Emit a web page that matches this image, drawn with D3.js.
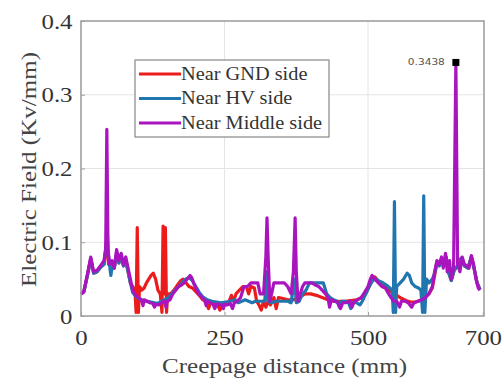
<!DOCTYPE html>
<html>
<head>
<meta charset="utf-8">
<script src="https://cdn.jsdelivr.net/npm/d3@7"></script>
<style>
  html, body { margin: 0; padding: 0; background: #fff; }
  svg { display: block; }
</style>
</head>
<body>
<svg id="chart" width="502" height="383"></svg>
<script>
// Creepage distance (mm) for each series
const gndDist = [0,5,12,17,22,28,34,40,45,48,54,58,62,66,70,74,78,82,86,90,94,96,98,100,102,106,110,114,118,122,126,130,134,138,141,143,145,147,149,151,156,162,168,174,178,182,188,194,200,206,212,218,222,226,232,238,242,246,252,258,262,266,270,276,282,288,292,296,302,306,310,314,318,322,326,330,336,340,344,350,360,370,380,390,400,410,420,430,440,450,460,470,480,490,496,502,508,512,518,526,534,542,550,558,566,574,582,590,598,606,612,616,620,624,628,632,636,640,645,650,656,662,668,674,680,686,690,695];
const gndField = [0.030,0.033,0.058,0.078,0.058,0.060,0.066,0.070,0.100,0.070,0.072,0.065,0.085,0.072,0.080,0.068,0.075,0.060,0.045,0.040,0.035,0.005,0.120,0.005,0.040,0.035,0.038,0.045,0.050,0.055,0.058,0.050,0.035,0.030,0.005,0.122,0.030,0.120,0.005,0.030,0.030,0.035,0.042,0.048,0.050,0.046,0.040,0.038,0.033,0.028,0.022,0.020,0.010,0.018,0.016,0.015,0.008,0.015,0.015,0.020,0.028,0.020,0.030,0.035,0.040,0.040,0.030,0.040,0.038,0.020,0.015,0.008,0.020,0.012,0.020,0.015,0.025,0.010,0.025,0.024,0.022,0.022,0.025,0.030,0.030,0.028,0.025,0.022,0.020,0.020,0.020,0.021,0.022,0.025,0.030,0.040,0.050,0.053,0.047,0.042,0.036,0.032,0.028,0.024,0.021,0.019,0.019,0.021,0.025,0.030,0.038,0.055,0.072,0.068,0.076,0.072,0.080,0.060,0.048,0.062,0.068,0.078,0.068,0.065,0.080,0.060,0.045,0.036];

const hvDist = [0,5,12,17,22,28,34,40,44,46,48,52,55,58,62,66,70,74,78,82,86,90,95,100,105,110,116,122,128,134,140,146,152,158,164,170,176,182,188,194,200,206,212,220,228,236,244,252,260,268,274,280,286,292,298,304,312,320,324,326,332,340,350,360,366,372,375,380,386,392,398,404,410,416,422,428,434,440,446,450,454,460,466,470,474,480,486,490,496,502,508,514,520,526,532,538,542,544,546,548,550,556,562,568,572,576,582,588,592,595,597,599,602,606,612,616,620,624,628,632,636,640,645,650,656,662,668,674,680,686,690,695];
const hvField = [0.030,0.033,0.058,0.078,0.058,0.060,0.066,0.070,0.100,0.110,0.080,0.055,0.070,0.065,0.085,0.072,0.080,0.068,0.075,0.060,0.045,0.032,0.027,0.024,0.022,0.020,0.020,0.019,0.018,0.017,0.020,0.022,0.025,0.030,0.035,0.040,0.045,0.050,0.052,0.048,0.040,0.032,0.026,0.022,0.020,0.019,0.018,0.019,0.020,0.022,0.018,0.020,0.022,0.020,0.018,0.020,0.020,0.020,0.060,0.020,0.018,0.020,0.020,0.020,0.018,0.050,0.018,0.020,0.030,0.035,0.045,0.045,0.045,0.045,0.045,0.030,0.025,0.022,0.020,0.012,0.020,0.020,0.018,0.010,0.018,0.018,0.015,0.020,0.030,0.040,0.048,0.050,0.047,0.045,0.042,0.038,0.035,0.005,0.155,0.005,0.040,0.045,0.050,0.058,0.055,0.045,0.040,0.038,0.035,0.005,0.163,0.005,0.050,0.045,0.050,0.058,0.072,0.068,0.076,0.072,0.080,0.060,0.048,0.062,0.068,0.078,0.068,0.065,0.080,0.060,0.045,0.036];

const midDist = [0,5,12,17,22,28,34,40,43,45,47,50,54,58,62,66,70,74,78,82,86,90,95,100,105,108,110,115,120,125,128,130,135,140,145,148,150,155,160,165,170,175,180,185,190,193,196,200,205,210,215,218,220,225,230,233,236,240,245,248,250,255,260,264,267,272,278,284,290,296,302,308,312,318,322,324,326,329,332,336,342,348,354,360,366,370,373,375,378,382,386,390,396,402,408,414,420,426,430,433,436,442,448,452,456,462,468,472,476,482,488,494,500,504,507,512,518,524,530,536,540,545,550,555,558,565,570,576,580,588,594,600,606,612,616,620,624,628,631,635,638,642,645,649,653,656,660,664,668,672,676,680,684,688,692,695];
const midField = [0.030,0.033,0.060,0.080,0.060,0.062,0.068,0.075,0.090,0.253,0.090,0.070,0.075,0.065,0.090,0.075,0.085,0.070,0.080,0.065,0.050,0.035,0.028,0.025,0.022,0.014,0.022,0.020,0.018,0.017,0.012,0.016,0.015,0.018,0.020,0.012,0.020,0.022,0.030,0.035,0.040,0.042,0.045,0.050,0.055,0.052,0.045,0.038,0.030,0.026,0.022,0.014,0.020,0.018,0.016,0.010,0.016,0.016,0.015,0.010,0.016,0.015,0.017,0.010,0.018,0.020,0.025,0.040,0.040,0.045,0.045,0.045,0.030,0.030,0.080,0.133,0.080,0.020,0.030,0.045,0.045,0.045,0.045,0.040,0.030,0.060,0.133,0.060,0.020,0.030,0.040,0.045,0.045,0.045,0.042,0.040,0.035,0.030,0.025,0.012,0.022,0.020,0.018,0.010,0.018,0.018,0.020,0.012,0.020,0.022,0.025,0.032,0.040,0.050,0.055,0.050,0.045,0.040,0.038,0.030,0.025,0.020,0.020,0.012,0.020,0.020,0.018,0.012,0.018,0.020,0.022,0.025,0.030,0.040,0.060,0.075,0.070,0.080,0.065,0.085,0.060,0.075,0.050,0.065,0.3438,0.070,0.060,0.080,0.070,0.068,0.065,0.082,0.070,0.050,0.038,0.035];

const xTicks = [0, 250, 500, 700];
const yTicks = [0, 0.1, 0.2, 0.3, 0.4];
const peakDist = 653;
const peakValue = 0.3438;

const seriesNames = ["Near GND side", "Near HV side", "Near Middle side"];
const seriesColors = ["#ec1c1c", "#2176b0", "#a914be"];

[[gndDist, gndField], [hvDist, hvField], [midDist, midField]].forEach(([a, b], i) => {
  if (a.length !== b.length) throw new Error(`series ${i}: ${a.length} vs ${b.length}`);
});

const series = [
  { name: seriesNames[0], color: seriesColors[0], pts: d3.zip(gndDist, gndField) },
  { name: seriesNames[1], color: seriesColors[1], pts: d3.zip(hvDist, hvField) },
  { name: seriesNames[2], color: seriesColors[2], pts: d3.zip(midDist, midField) }
];

const svg = d3.select("#chart");
const plotL = 81, plotR = 484, plotT = 21, plotB = 316;

const x = d3.scaleLinear().domain([0, 702]).range([plotL, plotR]);
const y = d3.scaleLinear().domain([0, 0.4]).range([plotB, plotT]);

const serif = "Liberation Serif";
const wide = "scale(1.13,1)";   // slightly widened lettering

svg.append("rect").attr("width", 502).attr("height", 383).attr("fill", "#fff");

// grid
const grid = svg.append("g").attr("stroke", "#e4e4e4").attr("stroke-width", 1);
grid.selectAll("line.gx").data(xTicks.filter(t => t > 0 && t < 700)).join("line")
  .attr("class", "gx")
  .attr("x1", d => x(d)).attr("x2", d => x(d)).attr("y1", plotT).attr("y2", plotB);
grid.selectAll("line.gy").data(yTicks.filter(t => t > 0 && t < 0.4)).join("line")
  .attr("class", "gy")
  .attr("y1", d => y(d)).attr("y2", d => y(d)).attr("x1", plotL).attr("x2", plotR);

// data lines
const plot = svg.append("g");
const line = d3.line().x(d => x(d[0])).y(d => y(d[1]));
plot.selectAll("path.series").data(series).join("path")
  .attr("class", "series")
  .attr("d", d => line(d.pts))
  .attr("fill", "none")
  .attr("stroke", d => d.color)
  .attr("stroke-width", 3.2)
  .attr("stroke-linejoin", "round");

// axes box with inward ticks
const axisColor = "#a0a0a0";
svg.append("rect").attr("x", plotL).attr("y", plotT)
  .attr("width", plotR - plotL).attr("height", plotB - plotT)
  .attr("fill", "none").attr("stroke", axisColor).attr("stroke-width", 1.6);

const xAxis = d3.axisBottom(x).tickValues(xTicks).tickSize(-4).tickFormat(d3.format("d"));
const gx = svg.append("g").attr("transform", `translate(0,${plotB})`).call(xAxis)
  .attr("font-family", serif);
gx.select(".domain").remove();
gx.selectAll(".tick line").attr("stroke", axisColor);
gx.selectAll(".tick text").attr("font-family", serif).attr("font-size", 22)
  .attr("fill", "#333").attr("dy", "0.95em").attr("y", 8)
  .attr("transform", wide);

const yAxis = d3.axisLeft(y).tickValues(yTicks).tickSize(-4)
  .tickFormat(d => d === 0 ? "0" : d3.format(".1f")(d));
const gy = svg.append("g").attr("transform", `translate(${plotL},0)`).call(yAxis)
  .attr("font-family", serif);
gy.select(".domain").remove();
gy.selectAll(".tick line").attr("stroke", axisColor);
gy.selectAll(".tick text").attr("font-family", serif).attr("font-size", 22)
  .attr("fill", "#333").attr("x", -7.5).attr("transform", wide);

// axis titles
svg.append("text").attr("x", 284.5).attr("y", 373)
  .attr("text-anchor", "middle").attr("font-family", serif)
  .attr("font-size", 22).attr("fill", "#444")
  .attr("textLength", 245).attr("lengthAdjust", "spacingAndGlyphs")
  .text("Creepage distance (mm)");
svg.append("text").attr("transform", "translate(36,169.5) rotate(-90)")
  .attr("text-anchor", "middle").attr("font-family", serif)
  .attr("font-size", 22).attr("fill", "#444")
  .attr("textLength", 235).attr("lengthAdjust", "spacingAndGlyphs")
  .text("Electric Field (Kv/mm)");

// peak marker
svg.append("rect").attr("x", x(peakDist) - 3.5).attr("y", y(peakValue) - 3.5)
  .attr("width", 7).attr("height", 7).attr("fill", "#000");
svg.append("text").attr("x", x(peakDist) - 11).attr("y", y(peakValue) + 3)
  .attr("text-anchor", "end").attr("font-family", "DejaVu Sans")
  .attr("font-size", 8.5).attr("fill", "#555")
  .attr("textLength", 37).attr("lengthAdjust", "spacingAndGlyphs")
  .text(d3.format(".4f")(peakValue));

// legend
const lg = svg.append("g");
lg.append("rect").attr("x", 135).attr("y", 60).attr("width", 194).attr("height", 77)
  .attr("fill", "#fff").attr("stroke", "#888").attr("stroke-width", 1.2);
const rows = lg.selectAll("g.row").data(series).join("g")
  .attr("class", "row")
  .attr("transform", (d, i) => `translate(0,${74 + i * 24.5})`);
rows.append("line").attr("x1", 139).attr("x2", 181).attr("y1", 0).attr("y2", 0)
  .attr("stroke", d => d.color).attr("stroke-width", 3);
rows.append("text").attr("transform", "translate(181,0) " + wide)
  .attr("dy", "0.33em")
  .attr("font-family", serif).attr("font-size", 18).attr("fill", "#333")
  .text(d => d.name);
</script>
</body>
</html>
